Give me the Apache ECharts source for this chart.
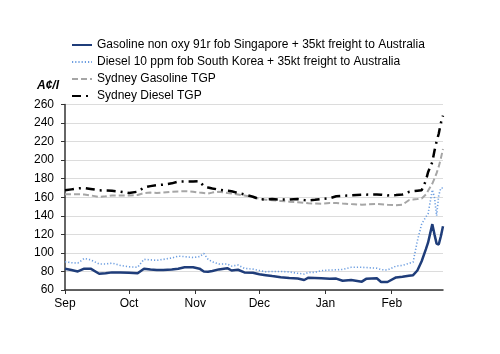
<!DOCTYPE html>
<html>
<head>
<meta charset="utf-8">
<script src="https://cdn.jsdelivr.net/npm/echarts@6/dist/echarts.min.js"></script>
<style>
  html, body { margin: 0; padding: 0; background: #fff; }
  #chart { width: 500px; height: 354px; }
</style>
</head>
<body>
<div id="chart"></div>
<script>
// sample dates
var dates = [
  '2021-09-01','2021-09-04','2021-09-07','2021-09-10','2021-09-13','2021-09-17','2021-09-20','2021-09-23','2021-09-27',
  '2021-10-01','2021-10-05','2021-10-08','2021-10-11','2021-10-14','2021-10-17','2021-10-21','2021-10-24','2021-10-27','2021-10-31',
  '2021-11-03','2021-11-05','2021-11-07','2021-11-09','2021-11-12','2021-11-16','2021-11-18','2021-11-21','2021-11-24','2021-11-28',
  '2021-12-01','2021-12-04','2021-12-07','2021-12-11','2021-12-15','2021-12-19','2021-12-22','2021-12-24','2021-12-27','2021-12-30',
  '2022-01-03','2022-01-06','2022-01-09','2022-01-13','2022-01-18','2022-01-20','2022-01-25','2022-01-27','2022-01-30',
  '2022-02-03','2022-02-06','2022-02-09','2022-02-11','2022-02-13','2022-02-15','2022-02-17','2022-02-18','2022-02-20',
  '2022-02-21','2022-02-22','2022-02-23','2022-02-24','2022-02-25'
];

var gasolineSing = [
  83, 81.5, 80, 83, 83, 77.5, 78, 79, 79,
  78.6, 78, 83, 82, 81.5, 81.5, 82, 83, 84.5, 84.5,
  83, 80, 79.7, 80.5, 82.2, 83.5, 81, 81.8, 79, 78.5,
  77, 76, 75, 73.8, 73, 72.3, 70.8, 73.3, 73, 72.6,
  72, 72.3, 70, 70.8, 69, 72, 72.6, 68.6, 68.6,
  73.6, 74.3, 75.4, 76, 81, 91, 104, 111, 131,
  120, 110, 109, 118, 128.8
];

var dieselKorea = [
  90.4, 89.5, 89, 94, 92.6, 88, 88, 89, 86.5,
  85, 84.5, 93, 92.5, 92, 93, 94.5, 96.5, 96, 95,
  96, 99.4, 93, 90.4, 88, 88, 85.8, 86.9, 83.3, 82.5,
  81, 79.7, 80, 80, 79.5, 78, 77.2, 79, 79, 80.9,
  81.5, 81.8, 82.2, 84.5, 84.5, 84.2, 83.5, 82, 81.5,
  85.8, 86.5, 88.7, 90, 113, 131, 139, 142, 168,
  160, 140, 162, 170, 170
];

var sydGasTGP = [
  163.2, 163.2, 163.2, 163, 162, 160.4, 161, 162, 162,
  162, 162.5, 164.5, 165, 164.6, 165, 166, 166.3, 166.5, 166,
  165, 164.5, 164, 165, 166, 164.6, 164, 162.9, 161.8, 160.2,
  158.5, 157.3, 156.8, 156, 155.2, 154.6, 154, 153.5, 153.2, 153,
  153.9, 153.8, 153.2, 152.6, 152, 152.3, 152.8, 152.5, 152,
  151.4, 152, 156.8, 157.5, 158, 158.6, 163, 167, 174.7,
  180, 186, 193, 202, 212
];

var sydDslTGP = [
  167.5, 168.5, 169.5, 170, 169, 167.5, 167.2, 167, 166,
  164.6, 166, 170.5, 172, 173, 173.6, 175, 176.9, 177, 177,
  177.2, 172, 170.5, 169.5, 168.2, 167, 166.5, 164.6, 163, 160.5,
  158, 157.5, 158, 157.5, 157.5, 158, 157, 156.6, 157.2, 158,
  159, 161, 161.5, 162, 162.7, 162.8, 163, 162.7, 162,
  162.3, 163, 165.7, 166.5, 167, 167.5, 178, 187, 198,
  210, 220, 228.5, 240, 248
];

var seriesNames = [
  'Gasoline non oxy 91r fob Singapore + 35kt freight to Australia',
  'Diesel 10 ppm fob South Korea + 35kt freight to Australia',
  'Sydney Gasoline TGP',
  'Sydney Diesel TGP'
];

var monthNames = ['Jan','Feb','Mar','Apr','May','Jun','Jul','Aug','Sep','Oct','Nov','Dec'];

// every day on the axis, Sep 1 to Feb 25
var days = [];
(function () {
  var t = Date.UTC(2021, 8, 1), end = Date.UTC(2022, 1, 25);
  for (; t <= end; t += 86400000) {
    days.push(new Date(t).toISOString().slice(0, 10));
  }
})();

function pairs(vals) {
  return dates.map(function (d, i) { return [d, vals[i]]; });
}
function isMonthStart(idx, val) {
  return val.slice(8) === '01';
}

var chart = echarts.init(document.getElementById('chart'));
var font = 'Liberation Sans';

var option = {
  animation: false,
  backgroundColor: '#fff',
  title: {
    text: 'A¢/l',
    left: 32,
    top: 75,
    textStyle: { fontFamily: font, fontSize: 12, fontWeight: 'bold', fontStyle: 'italic', color: '#000' }
  },
  legend: {
    orient: 'vertical',
    left: 66,
    top: 34,
    itemWidth: 20,
    itemHeight: 12,
    itemGap: 5,
    itemStyle: { opacity: 0 },
    textStyle: { fontFamily: font, fontSize: 12, color: '#000' },
    data: seriesNames
  },
  grid: { left: 65, right: 57, top: 104.5, bottom: 64 },
  xAxis: {
    type: 'category',
    data: days,
    boundaryGap: false,
    axisLine: { lineStyle: { color: '#333', width: 1.5 } },
    axisTick: { interval: isMonthStart, length: 4, lineStyle: { color: '#333' } },
    axisLabel: {
      interval: isMonthStart,
      margin: 8,
      fontFamily: font, fontSize: 12, color: '#000',
      formatter: function (v) { return monthNames[parseInt(v.slice(5, 7), 10) - 1]; }
    },
    splitLine: { show: false }
  },
  yAxis: {
    type: 'value',
    min: 60, max: 260, interval: 20,
    axisLine: { show: true, lineStyle: { color: '#333', width: 1.5 } },
    axisTick: { show: true, length: 4, lineStyle: { color: '#333' } },
    axisLabel: { margin: 11, fontFamily: font, fontSize: 12, color: '#000' },
    splitLine: { lineStyle: { color: '#dcdcdc', width: 1 } }
  },
  series: [
    {
      name: seriesNames[0], type: 'line', data: pairs(gasolineSing),
      symbol: 'none', color: '#1f3d7a',
      lineStyle: { color: '#1f3d7a', width: 2.5 }
    },
    {
      name: seriesNames[1], type: 'line', data: pairs(dieselKorea),
      symbol: 'none', color: '#6b9de0',
      lineStyle: { color: '#6b9de0', width: 1.6, type: [1.2, 2] }
    },
    {
      name: seriesNames[2], type: 'line', data: pairs(sydGasTGP),
      symbol: 'none', color: '#a6a6a6',
      lineStyle: { color: '#a6a6a6', width: 2, type: [6, 3] }
    },
    {
      name: seriesNames[3], type: 'line', data: pairs(sydDslTGP),
      symbol: 'none', color: '#000',
      lineStyle: { color: '#000', width: 2.5, type: [9, 5, 2, 5] }
    }
  ]
};

chart.setOption(option);
</script>
</body>
</html>
